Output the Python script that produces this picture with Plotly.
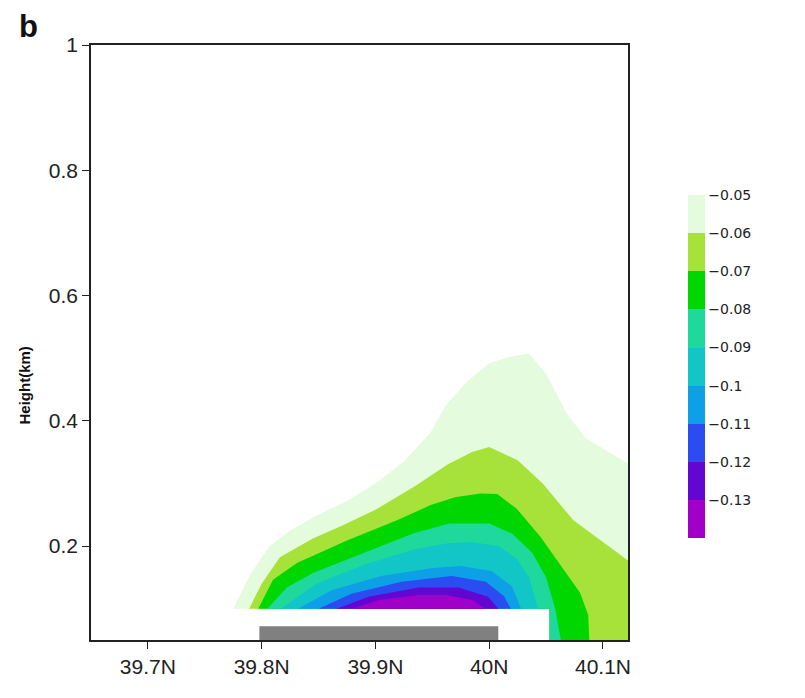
import plotly.graph_objects as go

# ---------------- data ----------------
levels = [-0.05, -0.06, -0.07, -0.08, -0.09, -0.10, -0.11, -0.12, -0.13]
level_labels = ["\u22120.05", "\u22120.06", "\u22120.07", "\u22120.08", "\u22120.09",
                "\u22120.1", "\u22120.11", "\u22120.12", "\u22120.13"]

# colours of the bands (value above each level's contour -> next colour)
band_colors = ["#e4fbde", "#a6e23a", "#00d700", "#1ed89c", "#12c6c8",
               "#0ea0e6", "#2a4cf0", "#6206d2", "#a000c8"]
above_color = "#ffffff"

# contour boundaries (latitude, height km) for each level
c005_x = [39.775, 39.790, 39.807, 39.825, 39.850, 39.875, 39.900, 39.925, 39.948,
          39.962, 39.980, 40.000, 40.020, 40.035, 40.050, 40.068, 40.085, 40.122]
c005_y = [0.100, 0.155, 0.200, 0.225, 0.250, 0.272, 0.300, 0.335, 0.380,
          0.425, 0.462, 0.492, 0.503, 0.507, 0.475, 0.412, 0.372, 0.332]

c006_x = [39.789, 39.800, 39.816, 39.845, 39.870, 39.900, 39.935, 39.963, 39.985,
          40.000, 40.025, 40.047, 40.074, 40.122]
c006_y = [0.100, 0.140, 0.182, 0.212, 0.232, 0.258, 0.296, 0.330, 0.350,
          0.358, 0.337, 0.300, 0.241, 0.177]

c007_x = [39.797, 39.810, 39.831, 39.875, 39.919, 39.948, 39.970, 39.992, 40.007,
          40.024, 40.045, 40.065, 40.080, 40.087, 40.088]
c007_y = [0.100, 0.146, 0.173, 0.209, 0.241, 0.265, 0.278, 0.284, 0.283,
          0.260, 0.215, 0.163, 0.125, 0.090, 0.050]

c008_x = [39.805, 39.822, 39.845, 39.889, 39.933, 39.965, 40.000, 40.020, 40.038,
          40.050, 40.058, 40.063]
c008_y = [0.100, 0.134, 0.157, 0.189, 0.220, 0.236, 0.236, 0.220, 0.189,
          0.150, 0.100, 0.050]

c009_x = [39.817, 39.848, 39.890, 39.935, 39.965, 39.985, 40.008, 40.024, 40.035, 40.043]
c009_y = [0.100, 0.140, 0.170, 0.195, 0.205, 0.206, 0.200, 0.180, 0.150, 0.100]

c010_x = [39.832, 39.862, 39.905, 39.950, 39.975, 40.002, 40.020, 40.028]
c010_y = [0.100, 0.130, 0.152, 0.165, 0.168, 0.160, 0.136, 0.100]

c011_x = [39.850, 39.879, 39.923, 39.967, 39.997, 40.013, 40.019]
c011_y = [0.100, 0.124, 0.143, 0.152, 0.143, 0.120, 0.100]

c012_x = [39.866, 39.894, 39.938, 39.973, 39.999, 40.008]
c012_y = [0.100, 0.119, 0.134, 0.134, 0.119, 0.100]

c013_x = [39.880, 39.903, 39.938, 39.962, 39.985, 39.997]
c013_y = [0.100, 0.114, 0.122, 0.122, 0.114, 0.100]

contours_x = [c005_x, c006_x, c007_x, c008_x, c009_x, c010_x, c011_x, c012_x, c013_x]
contours_y = [c005_y, c006_y, c007_y, c008_y, c009_y, c010_y, c011_y, c012_y, c013_y]

# domain / missing-data (terrain) region
x_left, x_right = 39.65, 40.122
y_floor, y_top = 0.05, 1.0
mask_top = 0.10        # lowest level with data left of mask_right
mask_right = 40.053

# grey bar on the ground
bar_x = [39.798, 40.008]
bar_y = [0.05, 0.072]

x_ticks = [39.7, 39.8, 39.9, 40.0, 40.1]
x_tick_labels = ["39.7N", "39.8N", "39.9N", "40N", "40.1N"]
y_ticks = [0.2, 0.4, 0.6, 0.8, 1.0]
y_tick_labels = ["0.2", "0.4", "0.6", "0.8", "1"]


def band_polygon(xs, ys):
    px, py = list(xs), list(ys)
    if px[-1] >= x_right:                 # contour leaves through the right edge
        px += [x_right, mask_right, mask_right]
        py += [y_floor, y_floor, mask_top]
    elif py[-1] <= y_floor:               # contour reaches the ground right of the mask
        px += [mask_right, mask_right]
        py += [y_floor, mask_top]
    return px, py


fig = go.Figure()

for lvl, cx, cy, col in zip(levels, contours_x, contours_y, band_colors):
    px, py = band_polygon(cx, cy)
    fig.add_trace(go.Scatter(x=px, y=py, mode="lines", fill="toself",
                             fillcolor=col, line=dict(width=0, color=col),
                             hoverinfo="skip", showlegend=False))

# grey bar
fig.add_trace(go.Scatter(x=[bar_x[0], bar_x[1], bar_x[1], bar_x[0]],
                         y=[bar_y[0], bar_y[0], bar_y[1], bar_y[1]],
                         mode="lines", fill="toself", fillcolor="#808080",
                         line=dict(width=0, color="#808080"),
                         hoverinfo="skip", showlegend=False))

# discrete colour bar
cb_colors = list(reversed(band_colors)) + [above_color]   # bottom -> top
cmin, cmax = -0.14, -0.04
n = len(cb_colors)
cscale = []
for i, c in enumerate(cb_colors):
    cscale.append([i / n, c])
    cscale.append([(i + 1) / n, c])

fig.add_trace(go.Scatter(
    x=[None], y=[None], mode="markers", showlegend=False, hoverinfo="skip",
    marker=dict(color=[-0.1], colorscale=cscale, cmin=cmin, cmax=cmax,
                showscale=True,
                colorbar=dict(tickvals=levels, ticktext=level_labels,
                              ticks="", outlinewidth=0, thickness=17,
                              lenmode="pixels", len=381,
                              x=1.1117, xanchor="left", xpad=0,
                              y=0.1714, yanchor="bottom", ypad=0,
                              tickfont=dict(family="DejaVu Sans", size=14, color="#222")))))

axis_common = dict(showgrid=False, zeroline=False, showline=True, linecolor="#222",
                   linewidth=1.5, mirror=True, ticks="outside", ticklen=7,
                   tickwidth=1.3, tickcolor="#222",
                   tickfont=dict(family="Liberation Sans", size=21, color="#222"))

# the page body adds an 8px offset, so margins are reduced by 8px on left/top
fig.update_layout(
    width=805, height=698,
    margin=dict(l=83, r=185, t=37, b=66),
    paper_bgcolor="white", plot_bgcolor="white",
    xaxis=dict(range=[x_left, x_right], tickvals=x_ticks, ticktext=x_tick_labels,
               **axis_common),
    yaxis=dict(range=[y_floor, y_top], tickvals=y_ticks, ticktext=y_tick_labels,
               **axis_common),
    annotations=[
        dict(text="<b>Height(km)</b>", textangle=-90, xref="paper", yref="paper",
             x=-0.1434, y=0.4286, showarrow=False,
             font=dict(family="Liberation Sans", size=15, color="#111")),
        dict(text="<b>b</b>", xref="paper", yref="paper", x=-0.136, xanchor="left",
             y=1.0615, yanchor="top", showarrow=False, borderpad=0,
             font=dict(family="Liberation Sans", size=31, color="#111")),
    ],
)

fig.write_html("out.html")
